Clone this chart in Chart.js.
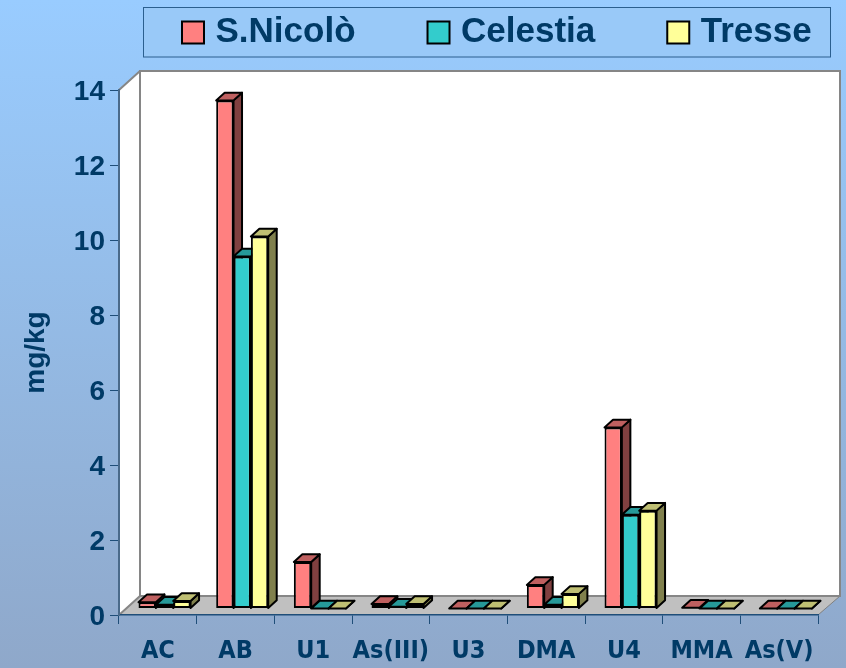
<!DOCTYPE html>
<html><head><meta charset="utf-8">
<style>
html,body{margin:0;padding:0;width:846px;height:668px;overflow:hidden;background:linear-gradient(to bottom,#99CCFF 0%,#8FA8CA 100%);}
canvas{display:block;}
</style>
<script src="https://cdn.jsdelivr.net/npm/chart.js@4"></script>
</head><body>
<canvas id="c" width="846" height="668"></canvas>
<script>
const categories = ['AC','AB','U1','As(III)','U3','DMA','U4','MMA','As(V)'];
const sNicolo  = [0.17, 13.55, 1.24, 0.12, 0, 0.63, 4.83, 0.02, 0];
const celestia = [0.1, 9.39, 0, 0.05, 0, 0.1, 2.5, 0, 0];
const tresse   = [0.2, 9.92, 0, 0.12, 0, 0.39, 2.61, 0, 0];
const yTicks = [0,2,4,6,8,10,12,14];
const seriesNames = ['S.Nicolò','Celestia','Tresse'];
const frontColors = ['#FF8080','#33CCCC','#FFFF99'];
const topColors   = ['#BF6060','#269999','#BFBF73'];
const sideColors  = ['#804040','#1A6666','#80804D'];
const INK = '#003A66';
const WALL_DX = 21, WALL_DY = 19, BAR_DX = 6.7, BAR_DY = 6.5, BAR_D = 8.5, BAR_DV = 7.7;

const scene = {
  id:'scene',
  afterLayout(chart){
    const l = chart.legend, p = l.options.labels.padding;
    l.left = 188 - p;
    l.top = 15 - p;
    l.right = chart.width + 300;
  },
  beforeDraw(chart){
    const c = chart.ctx, a = chart.chartArea;
    c.save();
    // legend frame
    c.fillStyle = '#99C9F8'; c.strokeStyle = '#2B5F8F'; c.lineWidth = 1;
    c.fillRect(143.5,7.5,687,49.5); c.strokeRect(143.5,7.5,687,49.5);
    // floor
    c.fillStyle = '#C0C0C0';
    c.beginPath(); c.moveTo(a.left,a.bottom); c.lineTo(a.right,a.bottom);
    c.lineTo(a.right+WALL_DX+1,a.bottom-WALL_DY); c.lineTo(a.left+WALL_DX,a.bottom-WALL_DY); c.closePath(); c.fill();
    c.strokeStyle = '#7F7F7F'; c.lineWidth = 1;
    c.beginPath(); c.moveTo(a.right,a.bottom); c.lineTo(a.right+WALL_DX+1,a.bottom-WALL_DY); c.stroke();
    // left wall
    c.fillStyle = '#FFFFFF';
    c.beginPath(); c.moveTo(a.left,a.top); c.lineTo(a.left+WALL_DX,a.top-WALL_DY);
    c.lineTo(a.left+WALL_DX,a.bottom-WALL_DY); c.lineTo(a.left,a.bottom); c.closePath(); c.fill();
    // back wall
    c.fillRect(a.left+WALL_DX,a.top-WALL_DY,a.width+1,a.height);
    c.strokeStyle = '#868686'; c.lineWidth = 2;
    c.strokeRect(a.left+WALL_DX,a.top-WALL_DY,a.width+1,a.height);
    c.beginPath(); c.moveTo(a.left,a.top); c.lineTo(a.left+WALL_DX,a.top-WALL_DY);
    c.moveTo(a.left,a.bottom); c.lineTo(a.left+WALL_DX,a.bottom-WALL_DY); c.stroke();
    c.restore();
  },
  beforeDatasetsDraw(chart){
    const c = chart.ctx;
    c.save();
    c.translate(BAR_DX,-BAR_DY);
    c.lineJoin = 'round';
    chart.data.datasets.forEach((ds,i)=>{
      chart.getDatasetMeta(i).data.forEach(bar=>{
        const {x,y,base,width} = bar.getProps(['x','y','base','width'],true);
        const l = x-width/2, r = x+width/2;
        c.strokeStyle = '#000'; c.lineWidth = 2;
        c.fillStyle = sideColors[i];
        c.beginPath(); c.moveTo(r,y); c.lineTo(r+BAR_D,y-BAR_DV); c.lineTo(r+BAR_D,base-BAR_DV); c.lineTo(r,base); c.closePath(); c.fill(); c.stroke();
        c.fillStyle = topColors[i];
        c.beginPath(); c.moveTo(l,y); c.lineTo(l+BAR_D,y-BAR_DV); c.lineTo(r+BAR_D,y-BAR_DV); c.lineTo(r,y); c.closePath(); c.fill(); c.stroke();
        bar.draw(c);
      });
    });
    c.restore();
    return false;
  }
};

new Chart(document.getElementById('c'),{
  type:'bar',
  plugins:[scene],
  data:{
    labels:categories,
    datasets:[sNicolo,celestia,tresse].map((d,i)=>({
      label:seriesNames[i], data:d,
      backgroundColor:frontColors[i], borderColor:'#000', borderWidth:2, borderSkipped:false,
      barPercentage:1, categoryPercentage:0.67
    }))
  },
  options:{
    responsive:false, animation:false, events:[],
    layout:{padding:{left:0,right:28,top:0,bottom:0}},
    plugins:{
      tooltip:{enabled:false},
      legend:{
        display:true, position:'top', align:'start', maxHeight:90,
        labels:{
          usePointStyle:true, pointStyle:'rect', boxWidth:10, boxHeight:22, padding:78,
          color:INK, font:{family:'"Liberation Sans"',size:35,weight:'bold',lineHeight:1.32},
          generateLabels(chart){
            return chart.data.datasets.map((d,i)=>({
              text:d.label, fillStyle:d.backgroundColor, strokeStyle:'#000', lineWidth:2,
              pointStyle:'rect', fontColor:INK, datasetIndex:i, hidden:false
            }));
          }
        }
      }
    },
    scales:{
      x:{
        afterFit(s){s.height=53;},
        grid:{display:true,drawOnChartArea:false,offset:true,tickLength:9,tickColor:'#1F4E79',tickWidth:1},
        border:{display:true,color:'#1F4E79',width:1.5},
        ticks:{color:INK,padding:12,maxRotation:0,autoSkip:false,font:{family:'"DejaVu Sans Condensed","DejaVu Sans"',size:25,weight:'bold'}}
      },
      y:{
        min:0,max:14,
        afterFit(s){s.width=119;},
        afterBuildTicks(s){s.ticks=yTicks.map(v=>({value:v}));},
        grid:{display:true,drawOnChartArea:false,tickLength:9,tickColor:'#1F4E79',tickWidth:1},
        border:{display:true,color:'#4A6A8A',width:2},
        ticks:{color:INK,padding:5,labelOffset:2,font:{family:'"Liberation Sans"',size:28,weight:'bold'}},
        title:{display:true,text:'mg/kg',color:INK,padding:{top:19,bottom:0},font:{family:'"Liberation Sans"',size:28,weight:'bold'}}
      }
    }
  }
});
</script>
</body></html>
